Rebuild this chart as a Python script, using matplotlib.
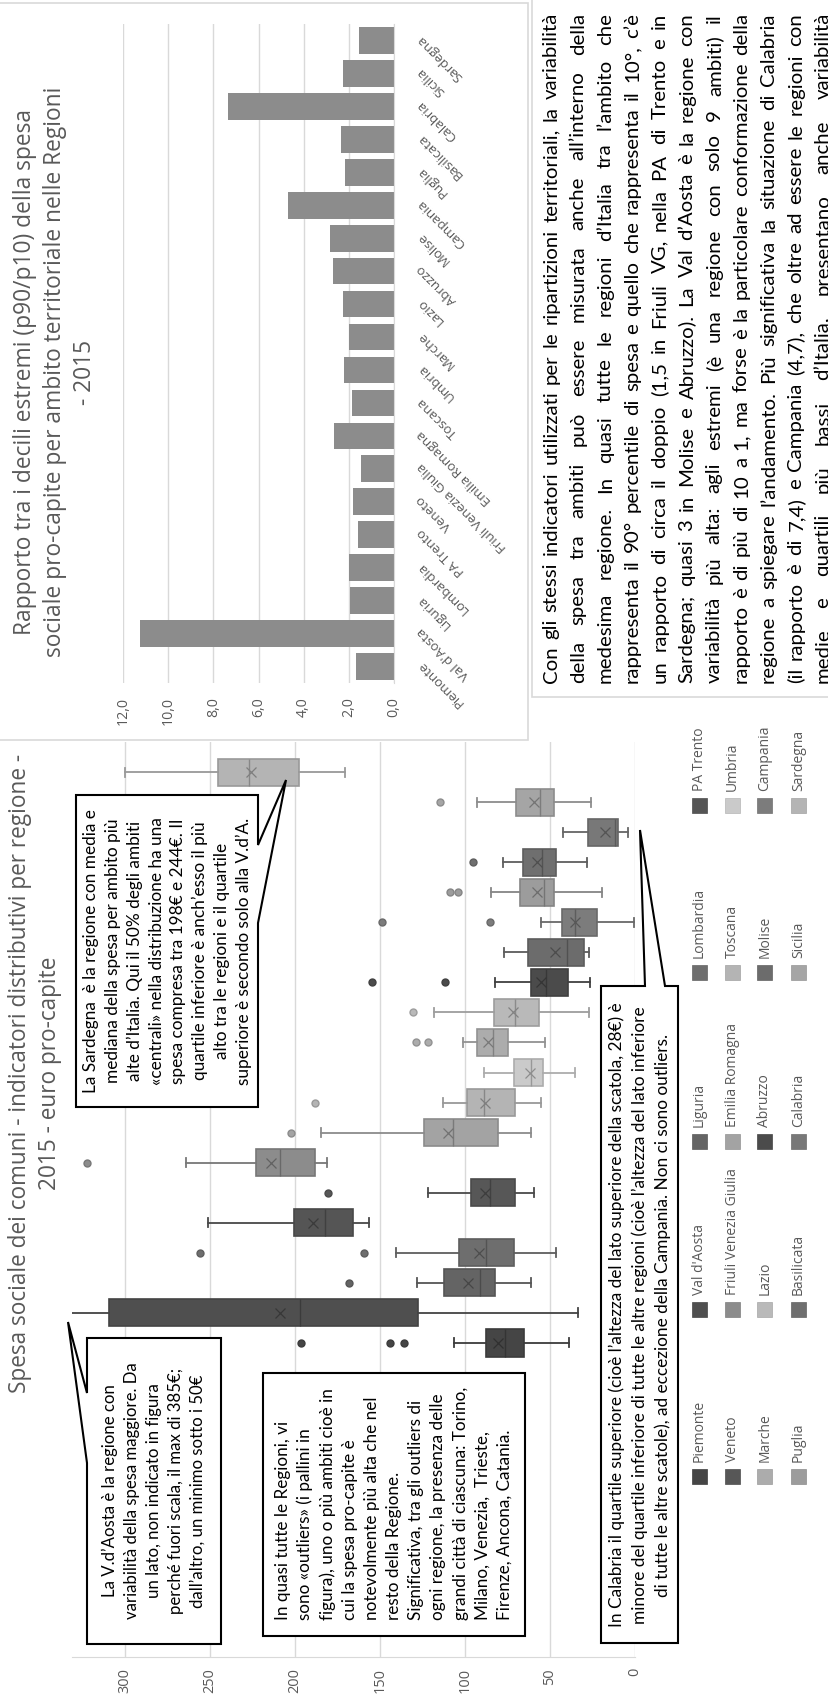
import matplotlib
matplotlib.use('Agg')
import matplotlib.pyplot as plt
import matplotlib.colors as mcolors
from matplotlib.patches import Polygon, Rectangle

W, H = 829, 1702

regions = ['Piemonte', "Val d'Aosta", 'Liguria', 'Lombardia', 'PA Trento', 'Veneto',
           'Friuli Venezia Giulia', 'Emilia Romagna', 'Toscana', 'Umbria', 'Marche', 'Lazio',
           'Abruzzo', 'Molise', 'Campania', 'Puglia', 'Basilicata', 'Calabria', 'Sicilia', 'Sardegna']

# rapporto p90/p10
ratio = [1.68, 11.24, 1.95, 1.98, 1.58, 1.83, 1.46, 2.64, 1.87, 2.21,
         1.98, 2.24, 2.71, 2.83, 4.69, 2.17, 2.36, 7.36, 2.27, 1.54]

# spesa pro-capite per ambito (box plot)
whis_lo = [38.6, 33.8, 61.0, 46.3, 156.5, 59.3, 181.3, 61.4, 55.5, 35.4,
           52.9, 27.1, 26.7, 26.8, 0.5, 19.2, 28.3, 4.3, 25.7, 170.6]
q1 = [65.0, 127.5, 82.4, 71.2, 165.8, 70.3, 188.2, 80.7, 70.3, 54.0,
      74.6, 56.5, 39.2, 30.2, 22.2, 47.5, 46.2, 9.8, 47.5, 197.8]
med = [76.4, 197.1, 91.3, 87.6, 182.5, 85.0, 209.0, 107.0, 89.0, 61.2,
       83.5, 70.5, 52.1, 40.2, 35.0, 53.6, 54.9, 11.5, 56.0, 227.2]
mean = [80.3, 208.7, 98.0, 91.7, 189.5, 88.4, 214.0, 109.9, 88.2, 62.0,
        86.2, 72.0, 55.2, 46.9, 35.4, 57.7, 57.7, 17.8, 59.5, 225.5]
q3 = [87.7, 309.0, 112.2, 103.4, 200.5, 96.2, 222.7, 124.1, 98.8, 71.1,
      92.7, 83.0, 61.3, 63.1, 43.1, 67.8, 66.0, 27.7, 69.7, 245.0]
whis_hi = [106.3, 385.0, 128.1, 140.5, 251.3, 121.6, 263.8, 184.7, 112.9, 88.8,
           101.2, 118.2, 82.4, 77.1, 55.0, 84.4, 77.4, 42.5, 93.0, 300.0]
fliers = [[196.3, 144.1, 135.7], [], [167.9], [256.0, 159.5], [], [180.6], [322.0], [202.1],
          [188.3], [], [128.6, 121.7], [130.8], [154.4, 111.8], [], [148.8, 85.5],
          [108.6, 103.8], [95.4], [], [114.9], []]

colors = ['#454545', '#4f4f4f', '#646464', '#6e6e6e', '#555555', '#575757', '#8c8c8c', '#a3a3a3',
          '#b4b4b4', '#cacaca', '#acacac', '#b9b9b9', '#4b4b4b', '#6c6c6c', '#7c7c7c', '#9c9c9c',
          '#6f6f6f', '#787878', '#a5a5a5', '#b4b4b4']

box_ticks = [0, 50, 100, 150, 200, 250, 300]
bar_ticks = [0, 2, 4, 6, 8, 10, 12]

box_title = ['Spesa sociale dei comuni - indicatori distributivi per regione -',
             '2015 - euro pro-capite']
bar_title = ['Rapporto tra i decili estremi (p90/p10) della spesa',
             'sociale pro-capite per ambito territoriale nelle Regioni',
             '- 2015']

vda_note = ['La V.d’Aosta è la regione con',
            'variabilità della spesa maggiore. Da',
            'un lato, non indicato in figura',
            'perché fuori scala, il max di 385€;',
            'dall’altro, un minimo sotto i 50€']
outl_note = ['In quasi tutte le Regioni, vi',
             'sono «outliers» (i pallini in',
             'figura), uno o più ambiti cioè in',
             'cui la spesa pro-capite è',
             'notevolmente più alta che nel',
             'resto della Regione.',
             'Significativa, tra gli outliers di',
             'ogni regione, la presenza delle',
             'grandi città di ciascuna: Torino,',
             'Milano, Venezia,  Trieste,',
             'Firenze, Ancona, Catania.']
sard_note = ['La Sardegna  è la regione con media e',
             'mediana della spesa per ambito più',
             'alte d’Italia. Qui il 50% degli ambiti',
             '«centrali» nella distribuzione ha una',
             'spesa compresa tra 198€ e 244€. Il',
             'quartile inferiore è anch’esso il più',
             'alto tra le regioni e il quartile',
             'superiore è secondo solo alla V.d’A.']
cal_note = ['In Calabria il quartile superiore (cioè l’altezza del lato superiore della scatola, 28€) è',
            'minore del quartile inferiore di tutte le altre regioni (cioè l’altezza del lato inferiore',
            'di tutte le altre scatole), ad eccezione della Campania. Non ci sono outliers.']

para = ['Con gli stessi indicatori utilizzati per le ripartizioni territoriali, la variabilità',
        'della spesa tra ambiti può essere misurata anche all’interno della',
        'medesima regione. In quasi tutte le regioni d’Italia tra l’ambito che',
        'rappresenta il 90° percentile di spesa e quello che rappresenta il 10°, c’è',
        'un rapporto di circa il doppio (1,5 in Friuli VG, nella PA di Trento e in',
        'Sardegna; quasi 3 in Molise e Abruzzo). La Val d’Aosta è la regione con',
        'variabilità più alta: agli estremi (è una regione con solo 9 ambiti) il',
        'rapporto è di più di 10 a 1, ma forse è la particolare conformazione della',
        'regione a spiegare l’andamento. Più significativa la situazione di Calabria',
        '(il rapporto è di 7,4) e Campania (4,7), che oltre ad essere le regioni con',
        'medie e quartili più bassi d’Italia, presentano anche variabilità']

plt.rcParams['font.family'] = ['Open Sans', 'DejaVu Sans']
GREY = '#595959'
BODY = ['Lato', 'DejaVu Sans']


def fx(x):
    return x / W


def fy(y):
    return 1 - y / H


def darker(c, f):
    return tuple(v * f for v in mcolors.to_rgb(c))


fig = plt.figure(figsize=(W / 100, H / 100), dpi=100)
fig.patch.set_facecolor('white')
renderer = fig.canvas.get_renderer()


def text_len(s, size, family):
    t = fig.text(0, 0, s, fontsize=size, family=family)
    w = t.get_window_extent(renderer).width
    t.remove()
    return w


def fit(s, target, family):
    return 10 * target / text_len(s, 10, family)


def vtext(x, y, s, size, family, color='black', va='center'):
    fig.text(fx(x), fy(y), s, rotation=90, ha='center', va=va, fontsize=size,
             family=family, color=color, zorder=4)


def justify(line, x, y_start, y_end, size):
    words = line.split()
    lens = [text_len(w, size, BODY) for w in words]
    gap = (y_start - y_end - sum(lens)) / (len(words) - 1)
    y = y_start
    for w, l in zip(words, lens):
        vtext(x, y, w, size, BODY, va='bottom')
        y -= l + gap


def callout(pts):
    poly = Polygon([(fx(x), fy(y)) for x, y in pts], closed=True, transform=fig.transFigure,
                   facecolor='white', edgecolor='black', linewidth=1.5, zorder=2)
    fig.add_artist(poly)


# box plot -----------------------------------------------------------------
ax = fig.add_axes([fx(72), fy(1657), fx(635) - fx(72), fy(742) - fy(1657)])
stats = []
for i in range(len(regions)):
    stats.append(dict(med=med[i], q1=q1[i], q3=q3[i], whislo=whis_lo[i], whishi=whis_hi[i],
                      mean=mean[i], fliers=fliers[i]))
art = ax.bxp(stats, positions=range(len(regions)), widths=0.9, orientation='horizontal',
             patch_artist=True, showmeans=True, manage_ticks=False, capwidths=0.3)
for i, c in enumerate(colors):
    edge = darker(c, 0.85)
    art['boxes'][i].set(facecolor=c, edgecolor=edge, linewidth=1.2)
    art['medians'][i].set(color=darker(c, 0.75), linewidth=1.0)
    for ln in art['whiskers'][2 * i:2 * i + 2] + art['caps'][2 * i:2 * i + 2]:
        ln.set(color=edge, linewidth=1.3)
    art['fliers'][i].set(marker='o', markerfacecolor=c, markeredgecolor=edge, markersize=5)
    art['means'][i].set(marker='x', markeredgecolor=darker(c, 0.7), markersize=7,
                        markeredgewidth=0.9)
ax.set_xlim(331, 0)
ax.set_ylim(-10.45, 20.0)
ax.set_xticks(box_ticks)
ax.set_yticks([])
ax.grid(axis='x', color='#d9d9d9', linewidth=1)
ax.set_axisbelow(True)
for s in ['top', 'left', 'right']:
    ax.spines[s].set_visible(False)
ax.spines['bottom'].set_color('#d9d9d9')
ax.tick_params(axis='x', length=0, pad=8, labelsize=fit('300', 25, plt.rcParams['font.family']),
               labelcolor=GREY, labelrotation=90)

# legend
leg_x = [699.5, 732.5, 765, 798.5]
leg_y = [1476, 1309, 1141, 972.5, 805.5]
leg_size = fit('Piemonte', 62, plt.rcParams['font.family'])
for i, name in enumerate(regions):
    cx, cy = leg_x[i // 5], leg_y[i % 5]
    fig.add_artist(Rectangle((fx(cx - 7.5), fy(cy + 7.5)), 15 / W, 15 / H, transform=fig.transFigure,
                             facecolor=colors[i], edgecolor=darker(colors[i], 0.9), linewidth=0.5))
    vtext(cx, cy - 14, name, leg_size, plt.rcParams['font.family'], color=GREY, va='bottom')

ts = fit(box_title[0], 643, plt.rcParams['font.family'])
vtext(20, 1073.5, box_title[0], ts, plt.rcParams['font.family'], color=GREY)
vtext(50, 1073.5, box_title[1], ts, plt.rcParams['font.family'], color=GREY)

# notes
callout([(87, 1338), (221, 1338), (221, 1644), (87, 1644), (87, 1463), (68, 1322), (87, 1393)])
s = fit(vda_note[1], 257, BODY)
for k, line in enumerate(vda_note):
    vtext(110 + 22 * k, 1491, line, s, BODY)

callout([(263, 1373), (525, 1373), (525, 1636), (263, 1636)])
s = fit(outl_note[2], 232, BODY)
for k, line in enumerate(outl_note):
    vtext(283 + 22.2 * k, 1620, line, s, BODY, va='bottom')

callout([(76, 795), (258, 795), (258, 845), (286, 780), (258, 923), (258, 1107), (76, 1107)])
s = fit(sard_note[3], 268, BODY)
for k, line in enumerate(sard_note):
    vtext(91.5 + 21.7 * k, 951, line, s, BODY)

callout([(601, 986), (645, 986), (640, 830), (665, 986), (678, 986), (678, 1643), (601, 1643)])
s = fit(cal_note[0], 626, BODY)
for k, line in enumerate(cal_note):
    vtext(617 + 23 * k, 1315, line, s, BODY)

# bar chart ------------------------------------------------------------------
fig.add_artist(Rectangle((fx(-2), fy(740)), fx(528) - fx(-2), fy(3) - fy(740), transform=fig.transFigure,
                         facecolor='white', edgecolor='#d9d9d9', linewidth=1.2, zorder=1))
axb = fig.add_axes([fx(123), fy(683), fx(394) - fx(123), fy(24) - fy(683)], zorder=3)
axb.patch.set_alpha(0)
axb.barh(range(len(regions)), ratio, height=0.81, color='#8c8c8c')
axb.set_xlim(12, 0)
axb.set_ylim(-0.5, 19.5)
axb.set_xticks(bar_ticks)
axb.set_xticklabels([('%.1f' % t).replace('.', ',') for t in bar_ticks])
axb.set_yticks([])
axb.grid(axis='x', color='#d9d9d9', linewidth=1)
axb.set_axisbelow(True)
for s in ['top', 'left', 'bottom']:
    axb.spines[s].set_visible(False)
axb.spines['right'].set_color('#d9d9d9')
axb.tick_params(axis='x', length=0, pad=10, labelsize=fit('12,0', 28, plt.rcParams['font.family']),
                labelcolor=GREY, labelrotation=90)
for i, name in enumerate(regions):
    axb.annotate(name, xy=(0, i), xytext=(25, 4), textcoords='offset pixels', rotation=135,
                 rotation_mode='anchor', ha='right', va='center', fontsize=9.5, color=GREY,
                 annotation_clip=False)

bs = fit(bar_title[1], 569, plt.rcParams['font.family'])
for k, line in enumerate(bar_title):
    vtext(25 + 30 * k, 372, line, bs, plt.rcParams['font.family'], color=GREY)

# paragraph ------------------------------------------------------------------
fig.add_artist(Rectangle((fx(532), fy(697)), fx(832) - fx(532), fy(-2) - fy(697), transform=fig.transFigure,
                         facecolor='white', edgecolor='#d9d9d9', linewidth=1.2, zorder=1))
ps = 10 * 655 / max(text_len(line, 10, BODY) for line in para)
for k, line in enumerate(para):
    justify(line, 551 + 27.2 * k, 683, 13, ps)

fig.savefig('out.png', dpi=100, facecolor='white')
